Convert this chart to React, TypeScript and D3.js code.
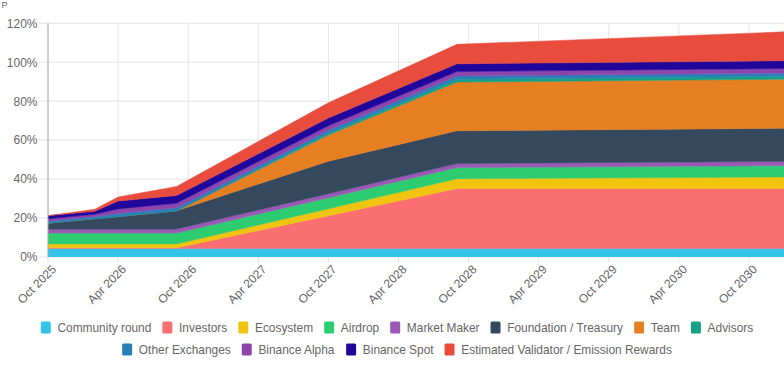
import React, { useMemo } from "react";
import * as d3 from "d3";

// ---- data (percent of supply) at key months (0 = Oct 2025) ----
const months = [0, 4, 6, 11, 24, 35, 63];
const communityRound = [4.4, 4.4, 4.4, 4.4, 4.4, 4.4, 4.4];
const investors = [0.3, 0.3, 0.3, 0.3, 16.8, 30.8, 30.8];
const ecosystem = [2.0, 2.0, 2.0, 2.0, 3.6, 5.0, 5.9];
const airdrop = [5.6, 5.6, 5.6, 5.6, 5.6, 5.7, 5.8];
const marketMaker = [2.1, 2.1, 2.1, 2.1, 2.1, 2.1, 2.2];
const foundation = [3.0, 5.3, 6.4, 9.3, 16.7, 16.8, 17.0];
const team = [0, 0, 0, 0, 13.5, 25.0, 25.2];
const advisors = [0, 0, 0, 0, 0.8, 1.5, 1.5];
const otherExchanges = [1.0, 1.0, 1.6, 1.6, 1.6, 1.6, 1.6];
const binanceAlpha = [1.2, 1.2, 2.3, 2.3, 2.3, 2.3, 2.4];
const binanceSpot = [1.6, 1.6, 4.0, 4.0, 4.0, 4.0, 4.0];
const validatorRewards = [0, 1.0, 2.1, 4.6, 7.8, 10.0, 14.8];

const seriesNames = [
  "Community round",
  "Investors",
  "Ecosystem",
  "Airdrop",
  "Market Maker",
  "Foundation / Treasury",
  "Team",
  "Advisors",
  "Other Exchanges",
  "Binance Alpha",
  "Binance Spot",
  "Estimated Validator / Emission Rewards",
];
const seriesValues = [
  communityRound,
  investors,
  ecosystem,
  airdrop,
  marketMaker,
  foundation,
  team,
  advisors,
  otherExchanges,
  binanceAlpha,
  binanceSpot,
  validatorRewards,
];
const seriesColors = [
  "#33c4ec",
  "#fb6f72",
  "#f1c40f",
  "#2ecc71",
  "#9b59b6",
  "#34495e",
  "#e67e22",
  "#16a085",
  "#2980b9",
  "#8e44ad",
  "#21069c",
  "#e74c3c",
];

const xTickMonths = [0, 6, 12, 18, 24, 30, 36, 42, 48, 54, 60];
const xTickLabels = [
  "Oct 2025",
  "Apr 2026",
  "Oct 2026",
  "Apr 2027",
  "Oct 2027",
  "Apr 2028",
  "Oct 2028",
  "Apr 2029",
  "Oct 2029",
  "Apr 2030",
  "Oct 2030",
];
const yTicks = [0, 20, 40, 60, 80, 100, 120];
const legendRows = [8, 4];

const W = 784;
const H = 367;
const FONT = "'Liberation Sans', Arial, Helvetica, sans-serif";
const LEGEND_SIZE = 11.9;

function measure(text: string, size: number) {
  if (typeof document === "undefined") return text.length * size * 0.5;
  const c = document.createElement("canvas");
  const ctx = c.getContext("2d");
  if (!ctx) return text.length * size * 0.5;
  ctx.font = `${size}px 'Liberation Sans', Arial`;
  return ctx.measureText(text).width;
}

export default function App() {
  const plot = { left: 48, right: 784, top: 23.3, bottom: 257 };
  const x = d3.scaleLinear().domain([0, 63]).range([plot.left, plot.left + 63 * (701 / 60)]);
  const y = d3.scaleLinear().domain([0, 120]).range([plot.bottom, plot.top]);

  const rows = months.map((m, i) => {
    const r: any = { m };
    seriesNames.forEach((n, k) => (r[n] = seriesValues[k][i]));
    return r;
  });
  const stacked = d3.stack<any>().keys(seriesNames)(rows);
  const area = d3
    .area<any>()
    .x((d) => x(d.data.m))
    .y0((d) => y(d[0]))
    .y1((d) => y(d[1]))
    .curve(d3.curveLinear);

  const legend = useMemo(() => {
    const items: any[] = [];
    let start = 0;
    const sw = 10;
    const gapText = 6.7;
    const gapItem = 11;
    legendRows.forEach((count, ri) => {
      const idx = d3.range(start, start + count);
      start += count;
      const widths = idx.map((i) => measure(seriesNames[i], LEGEND_SIZE));
      const total = d3.sum(widths) + idx.length * (sw + gapText) + gapItem * (idx.length - 1);
      let cx = 397 - total / 2;
      const cy = ri === 0 ? 327.5 : 349.5;
      idx.forEach((i, j) => {
        items.push({ i, x: cx, y: cy });
        cx += sw + gapText + widths[j] + gapItem;
      });
    });
    return items;
  }, []);

  return (
    <svg
      width={W}
      height={H}
      style={{ position: "absolute", left: 0, top: 0, background: "#fff" }}
      fontFamily={FONT}
    >
      <defs>
        <clipPath id="plotclip">
          <rect x={plot.left} y={0} width={plot.right - plot.left} height={plot.bottom} />
        </clipPath>
      </defs>
      <text x={1.5} y={8} fontSize={9} fill="#666">
        P
      </text>
      {/* grid */}
      {yTicks.map((t) => (
        <g key={"y" + t}>
          <line x1={plot.left - 9} x2={plot.right} y1={y(t)} y2={y(t)} stroke="#e4e4e4" strokeWidth={1} />
          <text x={37.5} y={y(t)} dy="0.36em" textAnchor="end" fontSize={12} fill="#666">
            {t}%
          </text>
        </g>
      ))}
      {xTickMonths.map((m, i) => (
        <g key={"x" + m}>
          <line x1={x(m)} x2={x(m)} y1={plot.top} y2={plot.bottom + 6} stroke="#e4e4e4" strokeWidth={1} />
          <text
            transform={`translate(${x(m) + 3},${plot.bottom + 7}) rotate(-45)`}
            textAnchor="end"
            dy="0.7em"
            fontSize={12}
            fill="#666"
          >
            {xTickLabels[i]}
          </text>
        </g>
      ))}
      {/* areas */}
      <g clipPath="url(#plotclip)">
        {stacked.map((s, k) => (
          <path key={s.key} d={area(s) || ""} fill={seriesColors[k]} stroke={seriesColors[k]} strokeWidth={0.5} />
        ))}
      </g>
      <line x1={plot.left} x2={plot.left} y1={plot.top} y2={plot.bottom} stroke="#aaa" strokeWidth={1} />
      {/* legend */}
      {legend.map((it) => (
        <g key={"lg" + it.i}>
          <rect x={it.x} y={it.y - 6} width={10} height={12} rx={1.5} fill={seriesColors[it.i]} />
          <text x={it.x + 16.7} y={it.y} dy="0.35em" fontSize={LEGEND_SIZE} fill="#666">
            {seriesNames[it.i]}
          </text>
        </g>
      ))}
    </svg>
  );
}
